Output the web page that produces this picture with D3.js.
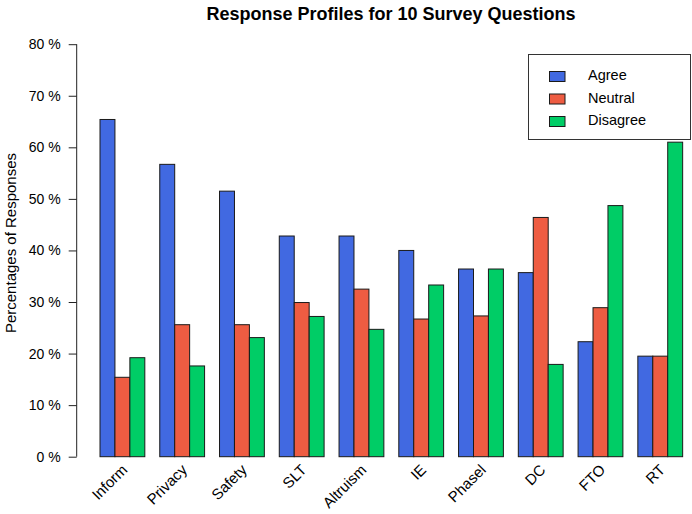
<!DOCTYPE html>
<html>
<head>
<meta charset="utf-8">
<script src="https://cdn.jsdelivr.net/npm/d3@7"></script>
<style>
  html, body { margin: 0; padding: 0; background: #fff; }
  svg { display: block; font-family: "Liberation Sans", Arial, sans-serif; }
</style>
</head>
<body>
<svg id="chart" width="692" height="514"></svg>
<script>
const categories = ["Inform", "Privacy", "Safety", "SLT", "Altruism", "IE", "Phasel", "DC", "FTO", "RT"];
const seriesNames = ["Agree", "Neutral", "Disagree"];
const agree    = [65.4, 56.7, 51.5, 42.8, 42.8, 40.0, 36.4, 35.7, 22.3, 19.5];
const neutral  = [15.4, 25.6, 25.6, 29.9, 32.5, 26.7, 27.3, 46.4, 28.9, 19.5];
const disagree = [19.2, 17.6, 23.1, 27.2, 24.7, 33.3, 36.4, 17.9, 48.7, 61.0];
const yTicks = [0, 10, 20, 30, 40, 50, 60, 70, 80];
const colors = ["#4169E1", "#EE5C42", "#00CD66"];
const title = "Response Profiles for 10 Survey Questions";
const yLabel = "Percentages of Responses";

const series = [agree, neutral, disagree];
const svg = d3.select("#chart");

const x0 = d3.scaleBand().domain(categories).range([85.06, 697.6]).paddingInner(0.25).paddingOuter(0.25);
const x1 = d3.scaleBand().domain(seriesNames).range([0, x0.bandwidth()]).padding(0);
const y = d3.scaleLinear().domain([0, 80]).range([456.7, 44.2]);
const color = d3.scaleOrdinal().domain(seriesNames).range(colors);

// Title
svg.append("text")
  .attr("x", 391).attr("y", 20)
  .attr("text-anchor", "middle")
  .attr("font-weight", "bold")
  .attr("font-size", 18)
  .attr("fill", "#000")
  .text(title);

// Bars
const groups = svg.append("g").selectAll("g")
  .data(categories)
  .join("g")
  .attr("transform", d => `translate(${x0(d)},0)`);

groups.selectAll("rect")
  .data((c, i) => seriesNames.map((s, j) => ({ s, v: series[j][i] })))
  .join("rect")
  .attr("x", d => x1(d.s))
  .attr("y", d => y(d.v))
  .attr("width", x1.bandwidth())
  .attr("height", d => y(0) - y(d.v))
  .attr("fill", d => color(d.s))
  .attr("stroke", "#1a1a1a")
  .attr("stroke-width", 1);

// Y axis
const yAxis = d3.axisLeft(y).tickValues(yTicks).tickSize(8).tickPadding(8).tickFormat(d => d + " %");
const gy = svg.append("g").attr("transform", "translate(76.7,0)").call(yAxis);
gy.select(".domain").attr("stroke", "#222").attr("d", `M0,${y(0)}V${y(80)}`);
gy.selectAll(".tick line").attr("stroke", "#222");
gy.selectAll(".tick text").attr("font-size", 14).attr("fill", "#000").attr("font-family", "Liberation Sans, Arial, sans-serif");

// Y label
svg.append("text")
  .attr("transform", "translate(12,243) rotate(-90)")
  .attr("text-anchor", "middle")
  .attr("dominant-baseline", "middle")
  .attr("font-size", 15)
  .attr("fill", "#000")
  .text(yLabel);

// X labels rotated
svg.append("g").selectAll("text")
  .data(categories)
  .join("text")
  .attr("transform", d => `translate(${x0(d) + x0.bandwidth() / 2 + 3},${468}) rotate(-45)`)
  .attr("text-anchor", "end")
  .attr("dominant-baseline", "middle")
  .attr("font-size", 15)
  .attr("fill", "#000")
  .text(d => d);

// Legend
const lg = svg.append("g");
lg.append("rect")
  .attr("x", 528.5).attr("y", 54.5).attr("width", 162).attr("height", 85)
  .attr("fill", "#fff").attr("stroke", "#333").attr("stroke-width", 1);
seriesNames.forEach((s, i) => {
  const cy = 76.5 + i * 22.5;
  lg.append("rect")
    .attr("x", 549.5).attr("y", cy - 5).attr("width", 15.5).attr("height", 10)
    .attr("fill", color(s)).attr("stroke", "#1a1a1a").attr("stroke-width", 1);
  lg.append("text")
    .attr("x", 588).attr("y", cy)
    .attr("dominant-baseline", "middle")
    .attr("font-size", 14.5)
    .attr("fill", "#000")
    .text(s);
});
</script>
</body>
</html>
